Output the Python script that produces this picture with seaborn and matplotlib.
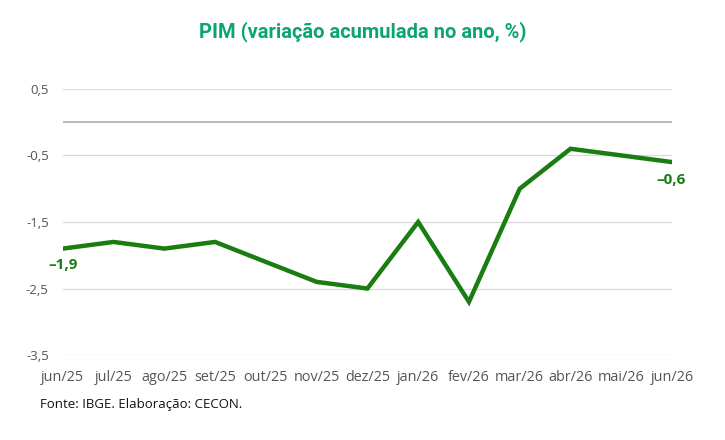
import pandas as pd
import matplotlib.pyplot as plt
import seaborn as sns

# dados
meses = ['jun/25', 'jul/25', 'ago/25', 'set/25', 'out/25', 'nov/25', 'dez/25',
         'jan/26', 'fev/26', 'mar/26', 'abr/26', 'mai/26', 'jun/26']
pim = [-1.9, -1.8, -1.9, -1.8, -2.1, -2.4, -2.5, -1.5, -2.7, -1.0, -0.4, -0.5, -0.6]
yticks = [0.5, -0.5, -1.5, -2.5, -3.5]

df = pd.DataFrame({'mes': range(len(meses)), 'pim': pim})

sns.set_style('white')
plt.rcParams['font.family'] = ['Open Sans', 'DejaVu Sans']

verde = '#1a7d12'

fig = plt.figure(figsize=(7.25, 4.4), dpi=100)
ax = fig.add_axes([0.0865, 0.193, 0.8405, 0.605])

sns.lineplot(data=df, x='mes', y='pim', ax=ax, color=verde, linewidth=3.2,
             solid_joinstyle='miter')

for y in yticks:
    ax.axhline(y, color='#d9d9d9', linewidth=0.9, zorder=0)
ax.axhline(0, color='#a6a6a6', linewidth=1.1, zorder=0)

ax.set_xlim(0, len(meses) - 1)
ax.set_ylim(-3.5, 0.5)
ax.set_xticks(range(len(meses)))
ax.set_xticklabels(meses)
ax.set_yticks(yticks)
ax.set_yticklabels([f'{v:.1f}'.replace('.', ',') for v in yticks])
ax.tick_params(axis='both', length=0, colors='#555555')
ax.tick_params(axis='y', pad=10, labelsize=9.5)
ax.tick_params(axis='x', pad=11, labelsize=10.4)
ax.set_xlabel('')
ax.set_ylabel('')
sns.despine(ax=ax, left=True, bottom=True)

# rótulos do primeiro e último ponto
ax.annotate(f'{pim[0]:.1f}'.replace('.', ',').replace('-', '–'), (0, pim[0]),
            xytext=(0, -12), textcoords='offset points', ha='center', va='center',
            color=verde, fontsize=11, fontweight='bold')
ax.annotate(f'{pim[-1]:.1f}'.replace('.', ',').replace('-', '–'), (len(meses) - 1, pim[-1]),
            xytext=(-1, -13), textcoords='offset points', ha='center', va='center',
            color=verde, fontsize=11, fontweight='bold')

fig.text(0.5, 0.927, 'PIM (variação acumulada no ano, %)', ha='center', va='center',
         color='#0aa66e', fontsize=14.5, fontweight='bold', family=['Roboto', 'DejaVu Sans'])
fig.text(0.055, 0.08, 'Fonte: IBGE. Elaboração: CECON.', ha='left', va='center',
         color='#111111', fontsize=9.5)

fig.savefig('out.png', dpi=100)
